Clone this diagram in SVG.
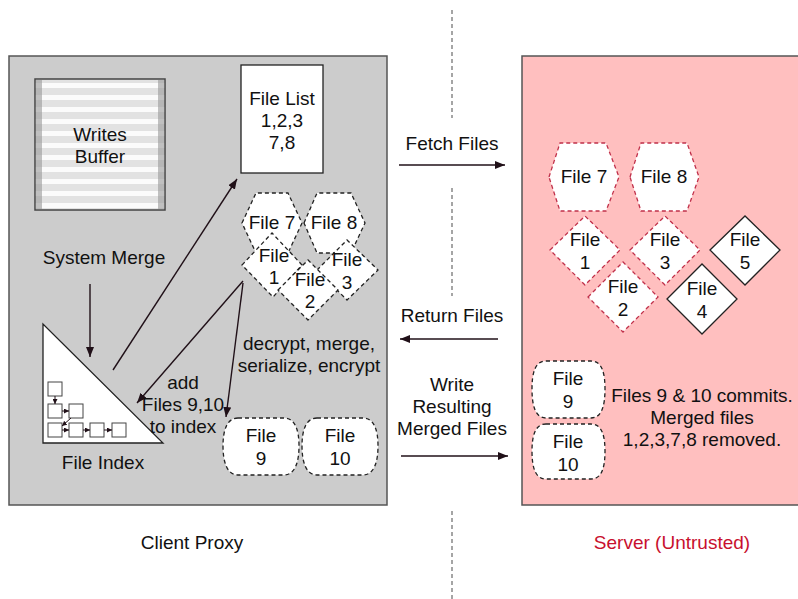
<svg xmlns="http://www.w3.org/2000/svg" width="798" height="599" viewBox="0 0 798 599">
<style>
text{font-family:"Liberation Sans",Arial,Helvetica,sans-serif;font-size:19px;fill:#111;text-anchor:middle}
.panel{stroke:#555;stroke-width:1.5}
.node{fill:#fff;stroke:#222;stroke-width:1.3}
.dash{fill:#fff;stroke:#222;stroke-width:1.3;stroke-dasharray:4,3}
.rdash{fill:#fff;stroke:#c0304a;stroke-width:1.3;stroke-dasharray:4,3}
.conn{stroke:#201018;stroke-width:1.4;fill:none;marker-end:url(#ah)}
.sep{stroke:#888;stroke-width:1.5;stroke-dasharray:4,3}
.sm{fill:#fff;stroke:#444;stroke-width:1}
.smc{stroke:#201018;stroke-width:1;fill:none;marker-end:url(#sah)}
</style>
<defs>
<marker id="ah" viewBox="0 0 10 8" refX="10" refY="4" markerWidth="10" markerHeight="8" markerUnits="userSpaceOnUse" orient="auto"><path d="M0,0 L10,4 L0,8 Z" fill="#201018"/></marker>
<marker id="sah" viewBox="0 0 6 6" refX="6" refY="3" markerWidth="5" markerHeight="5" markerUnits="userSpaceOnUse" orient="auto"><path d="M0,0 L6,3 L0,6 Z" fill="#201018"/></marker>
<pattern id="stripes" x="0" y="79" width="10" height="12" patternUnits="userSpaceOnUse"><rect width="10" height="12" fill="#e2e2e2"/><rect y="4" width="10" height="5" fill="#fbfbfb"/></pattern>
</defs>

<g id="separators">
<line class="sep" x1="452" y1="10" x2="452" y2="118"/>
<line class="sep" x1="452" y1="188" x2="452" y2="296"/>
<line class="sep" x1="452" y1="511" x2="452" y2="599"/>
</g>

<g id="client-proxy">
<rect class="panel" x="9" y="56" width="378" height="449" fill="#cccccc"/>
<text x="192" y="549">Client Proxy</text>
</g>
<g id="server">
<rect class="panel" x="522" y="56" width="290" height="449" fill="#ffbfbf"/>
<text x="672" y="549" style="fill:#c8102e">Server (Untrusted)</text>
</g>

<g id="writes-buffer">
<rect x="35" y="79" width="130" height="131" fill="url(#stripes)" stroke="#444" stroke-width="1.5"/>
<rect x="36" y="80" width="6" height="129" fill="#9a9a9a" opacity="0.6"/>
<rect x="158" y="80" width="6" height="129" fill="#9a9a9a" opacity="0.6"/>
<text x="100" y="141">Writes</text>
<text x="100" y="163">Buffer</text>
</g>

<g id="file-list">
<rect class="node" x="241" y="65" width="82" height="108"/>
<text x="282" y="105">File List</text>
<text x="282" y="127">1,2,3</text>
<text x="282" y="149">7,8</text>
</g>

<g id="system-merge">
<text x="104" y="264">System Merge</text>
</g>

<g id="file-index">
<polygon class="node" points="43,324 43,443 163,443"/>
<rect class="sm" x="48" y="382" width="14" height="14"/>
<rect class="sm" x="48" y="404" width="14" height="14"/>
<rect class="sm" x="69" y="404" width="14" height="14"/>
<rect class="sm" x="48" y="423" width="14" height="14"/>
<rect class="sm" x="69" y="423" width="14" height="14"/>
<rect class="sm" x="90" y="423" width="14" height="14"/>
<rect class="sm" x="112" y="423" width="14" height="14"/>
<line class="smc" x1="55" y1="396" x2="55" y2="404"/>
<line class="smc" x1="62" y1="411" x2="69" y2="411"/>
<line class="smc" x1="71" y1="418" x2="62" y2="426"/>
<line class="smc" x1="62" y1="430" x2="69" y2="430"/>
<line class="smc" x1="83" y1="430" x2="90" y2="430"/>
<line class="smc" x1="104" y1="430" x2="112" y2="430"/>
<text x="103" y="469">File Index</text>
</g>

<g id="c-file7">
<polygon class="dash" points="242,223 256,193 288,193 302,223 288,253 256,253"/>
<text x="272" y="229">File 7</text>
</g>
<g id="c-file8">
<polygon class="dash" points="304,223 317,193 351,193 365,223 351,253 317,253"/>
<text x="334" y="229">File 8</text>
</g>
<g id="c-file1">
<polygon class="dash" points="242,265 272,233 302,265 273,297"/>
<text x="274" y="262">File</text>
<text x="274" y="284">1</text>
</g>
<g id="c-file3">
<polygon class="dash" points="317,270 347,240 378,270 347,300"/>
<text x="347" y="266">File</text>
<text x="347" y="289">3</text>
</g>
<g id="c-file2">
<polygon class="dash" points="278,290 308,260 338,290 308,320"/>
<text x="310" y="286">File</text>
<text x="310" y="308">2</text>
</g>

<g id="c-file9">
<path class="dash" d="M238,418 H284 C295,418 299,430 299,446 C299,462 295,475 284,475 H238 C227,475 223,462 223,446 C223,430 227,418 238,418 Z"/>
<text x="261" y="442">File</text>
<text x="261" y="465">9</text>
</g>
<g id="c-file10">
<path class="dash" d="M317,418 H363 C374,418 378,430 378,446 C378,462 374,475 363,475 H317 C306,475 302,462 302,446 C302,430 306,418 317,418 Z"/>
<text x="340" y="442">File</text>
<text x="340" y="465">10</text>
</g>

<g id="s-file7">
<polygon class="rdash" points="549,177 560,143 606,143 619,177 606,211 560,211"/>
<text x="584" y="183">File 7</text>
</g>
<g id="s-file8">
<polygon class="rdash" points="630,177 641,143 687,143 699,177 687,211 641,211"/>
<text x="664" y="183">File 8</text>
</g>
<g id="s-file1">
<polygon class="rdash" points="550,250 585,216 620,250 585,285"/>
<text x="585" y="246">File</text>
<text x="585" y="269">1</text>
</g>
<g id="s-file3">
<polygon class="rdash" points="630,250 665,216 700,250 665,285"/>
<text x="665" y="246">File</text>
<text x="665" y="269">3</text>
</g>
<g id="s-file2">
<polygon class="rdash" points="588,297 623,262 658,297 623,332"/>
<text x="623" y="293">File</text>
<text x="623" y="316">2</text>
</g>
<g id="s-file4">
<polygon class="node" points="667,299 702,264 737,299 702,334"/>
<text x="702" y="295">File</text>
<text x="702" y="318">4</text>
</g>
<g id="s-file5">
<polygon class="node" points="710,250 745,216 780,250 745,285"/>
<text x="745" y="246">File</text>
<text x="745" y="269">5</text>
</g>
<g id="s-file9">
<path class="dash" d="M546,361 H591 C602,361 605,373 605,389 C605,405 602,418 591,418 H546 C535,418 532,405 532,389 C532,373 535,361 546,361 Z"/>
<text x="568" y="385">File</text>
<text x="568" y="408">9</text>
</g>
<g id="s-file10">
<path class="dash" d="M546,424 H591 C602,424 605,436 605,451 C605,467 602,479 591,479 H546 C535,479 532,467 532,451 C532,436 535,424 546,424 Z"/>
<text x="568" y="448">File</text>
<text x="568" y="471">10</text>
</g>
<g id="s-note">
<text x="702" y="402">Files 9 &amp; 10 commits.</text>
<text x="702" y="424">Merged files</text>
<text x="702" y="446">1,2,3,7,8 removed.</text>
</g>

<g id="connectors">
<line class="conn" x1="113" y1="370" x2="237" y2="179"/>
<line class="conn" x1="90" y1="284" x2="90" y2="357"/>
<line class="conn" x1="243" y1="281" x2="137" y2="403"/>
<line class="conn" x1="243" y1="283" x2="226" y2="417"/>
<line class="conn" x1="399" y1="165" x2="505" y2="165"/>
<line class="conn" x1="498" y1="339" x2="400" y2="339"/>
<line class="conn" x1="401" y1="456" x2="508" y2="456"/>
<text x="452" y="150">Fetch Files</text>
<text x="452" y="322">Return Files</text>
<text x="452" y="391">Write</text>
<text x="452" y="413">Resulting</text>
<text x="452" y="435">Merged Files</text>
<text x="183" y="389">add</text>
<text x="183" y="411">Files 9,10</text>
<text x="183" y="433">to index</text>
<text x="309" y="350">decrypt, merge,</text>
<text x="309" y="372">serialize, encrypt</text>
</g>
</svg>
